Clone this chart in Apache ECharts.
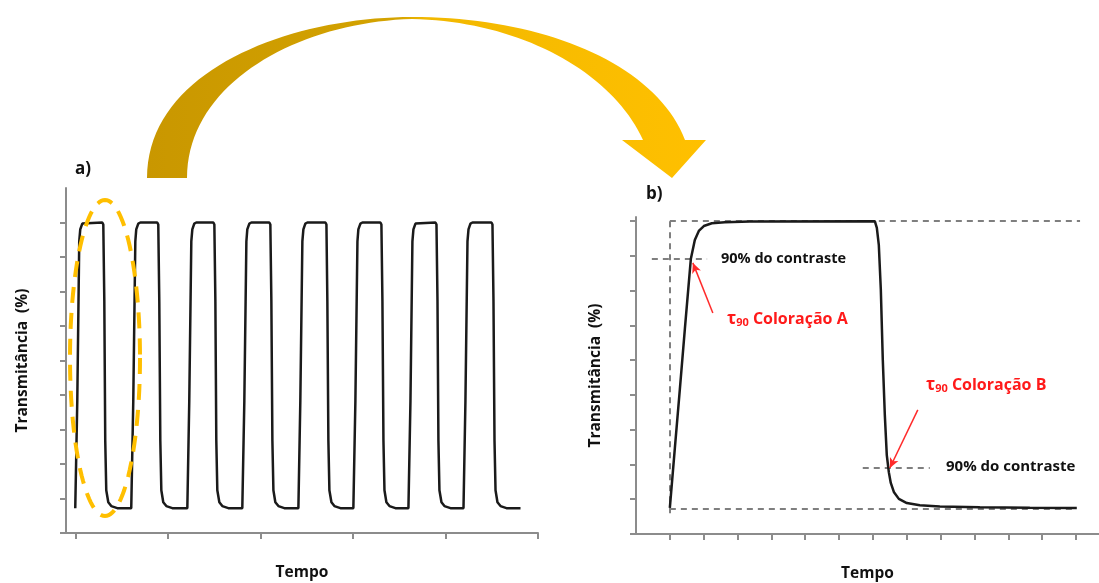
<!DOCTYPE html>
<html>
<head>
<meta charset="utf-8">
<script src="https://cdn.jsdelivr.net/npm/echarts@6/dist/echarts.min.js"></script>
<style>html,body{margin:0;padding:0;background:#fff;}#c{width:1099px;height:583px;}</style>
</head>
<body>
<div id="c"></div>
<script>
// ---- Panel a: repeated switching cycles ----
const timeA = [
  0, 0.22, 0.43, 0.54, 0.76, 0.97, 2.92, 3.03, 3.14, 3.24, 3.35, 3.57, 3.89, 4.54,
  6.05, 6.27, 6.49, 6.59, 6.81, 7.03, 8.86, 8.97, 9.08, 9.19, 9.30, 9.51, 9.84, 10.49,
  12.11, 12.32, 12.54, 12.65, 12.86, 13.08, 14.92, 15.03, 15.14, 15.24, 15.35, 15.57, 15.89, 16.54,
  18.05, 18.27, 18.49, 18.59, 18.81, 19.03, 20.97, 21.08, 21.19, 21.30, 21.41, 21.62, 21.95, 22.59,
  24.11, 24.32, 24.54, 24.65, 24.86, 25.08, 27.03, 27.14, 27.24, 27.35, 27.46, 27.68, 28.00, 28.65,
  30.05, 30.27, 30.49, 30.59, 30.81, 31.03, 32.97, 33.08, 33.19, 33.30, 33.41, 33.62, 33.95, 34.59,
  36.00, 36.22, 36.43, 36.54, 36.76, 36.97, 38.92, 39.03, 39.14, 39.24, 39.35, 39.57, 39.89, 40.54,
  41.95, 42.16, 42.38, 42.49, 42.70, 42.92, 44.97, 45.08, 45.19, 45.30, 45.41, 45.62, 45.95, 46.59, 48.11
];
const transA = [
  0.72, 3.84, 8.45, 8.8, 8.97, 9.0, 9.0, 8.94, 6.72, 2.68, 1.24, 0.89, 0.78, 0.72,
  0.72, 3.84, 8.45, 8.8, 8.97, 9.0, 9.0, 8.94, 6.72, 2.68, 1.24, 0.89, 0.78, 0.72,
  0.72, 3.84, 8.45, 8.8, 8.97, 9.0, 9.0, 8.94, 6.72, 2.68, 1.24, 0.89, 0.78, 0.72,
  0.72, 3.84, 8.45, 8.8, 8.97, 9.0, 9.0, 8.94, 6.72, 2.68, 1.24, 0.89, 0.78, 0.72,
  0.72, 3.84, 8.45, 8.8, 8.97, 9.0, 9.0, 8.94, 6.72, 2.68, 1.24, 0.89, 0.78, 0.72,
  0.72, 3.84, 8.45, 8.8, 8.97, 9.0, 9.0, 8.94, 6.72, 2.68, 1.24, 0.89, 0.78, 0.72,
  0.72, 3.84, 8.45, 8.8, 8.97, 9.0, 9.0, 8.94, 6.72, 2.68, 1.24, 0.89, 0.78, 0.72,
  0.72, 3.84, 8.45, 8.8, 8.97, 9.0, 9.0, 8.94, 6.72, 2.68, 1.24, 0.89, 0.78, 0.72, 0.72
];
const ticksXA = [0, 10, 20, 30, 40, 50];
const ticksYA = [0, 1, 2, 3, 4, 5, 6, 7, 8, 9];

// ---- Panel b: one cycle in detail ----
const timeB = [0, 0.74, 1.48, 2.22, 3.10, 3.69, 4.28, 5.02, 6.20, 8.12, 11.82, 30.28,
  30.58, 30.87, 31.17, 31.46, 31.76, 32.05, 32.35, 32.64, 33.09, 33.83, 35.01, 36.93, 39.88, 45.79, 53.18, 60.12];
const transB = [0.75, 2.47, 4.17, 5.90, 7.91, 8.46, 8.72, 8.86, 8.94, 8.97, 8.99, 9.0,
  8.81, 8.32, 7.02, 5.01, 3.42, 2.27, 1.78, 1.47, 1.21, 1.01, 0.89, 0.83, 0.79, 0.77, 0.755, 0.75];
const ticksXB = [0, 5, 10, 15, 20, 25, 30, 35, 40, 45, 50, 55, 60];
const ticksYB = [0, 1, 2, 3, 4, 5, 6, 7, 8, 9];

// reference levels / times in panel b
const levelTop = 9.0, levelBottom = 0.72, level90A = 7.93, level90B = 1.90;
const tOn = 0, tOff = 30.28;
const arrowA = [[6.35, 6.36], [3.40, 7.80]];
const arrowB = [[36.63, 3.57], [32.50, 1.90]];

const labels = {
  yName: 'Transmitância  (%)',
  xName: 'Tempo',
  contrast: '90% do contraste',
  colA: 'Coloração A',
  colB: 'Coloração B'
};

const FONT = "'Open Sans', 'DejaVu Sans', sans-serif";
const axisGray = '#8c8c8c';
const dashGray = '#7f7f7f';
const RED = '#ff1a1a';

function axisCommon(ticks) {
  return {
    axisLine: { show: true, onZero: false, lineStyle: { color: axisGray, width: 2 } },
    axisTick: { show: true, customValues: ticks, length: 6, inside: false, lineStyle: { color: axisGray, width: 2 } },
    axisLabel: { show: false },
    splitLine: { show: false }
  };
}
const nameStyle = { fontFamily: FONT, fontWeight: 'bold', fontSize: 15.5, color: '#111' };

const dashed = { color: dashGray, width: 2, type: [6, 5] };
function seg(a, b, style) {
  return [{ coord: a, lineStyle: style }, { coord: b }];
}

// decorative shapes (pixel geometry, not data)
function cubic(p0, p1, p2, p3, n) {
  const out = [];
  for (let i = 0; i <= n; i++) {
    const t = i / n, u = 1 - t;
    out.push([
      u*u*u*p0[0] + 3*u*u*t*p1[0] + 3*u*t*t*p2[0] + t*t*t*p3[0],
      u*u*u*p0[1] + 3*u*u*t*p1[1] + 3*u*t*t*p2[1] + t*t*t*p3[1]
    ]);
  }
  return out;
}
const arrowPts = [].concat(
  cubic([147,178],[147,70],[290,17],[412,17],40),
  cubic([412,17],[540,17],[655,62],[685,140],40),
  [[706,140],[672,178],[622,140],[643,140]],
  cubic([643,140],[612,72],[520,21],[412,19],40),
  cubic([412,19],[300,22],[187,82],[187,178],40)
);
const ellipsePts = [];
for (let i = 0; i < 120; i++) {
  const a = i / 120 * Math.PI * 2;
  ellipsePts.push([105 + 35 * Math.cos(a), 358 + 158 * Math.sin(a)]);
}

const redRich = {
  t: { fontFamily: FONT, fontWeight: 'bold', fontSize: 17, fill: RED },
  s: { fontFamily: FONT, fontWeight: 'bold', fontSize: 11, fill: RED, padding: [7, 0, 0, 0] },
  n: { fontFamily: FONT, fontWeight: 'bold', fontSize: 16, fill: RED }
};

const chart = echarts.init(document.getElementById('c'), null, { renderer: 'canvas' });
chart.setOption({
  animation: false,
  backgroundColor: '#ffffff',
  grid: [
    { left: 66, right: 561, top: 188, bottom: 50, outerBoundsMode: 'none', containLabel: false },
    { left: 636, right: 0, top: 217, bottom: 49, outerBoundsMode: 'none', containLabel: false }
  ],
  xAxis: [
    Object.assign({ type: 'value', gridIndex: 0, min: -1, max: 50, name: labels.xName,
      nameLocation: 'middle', nameGap: 32, nameTextStyle: nameStyle }, axisCommon(ticksXA)),
    Object.assign({ type: 'value', gridIndex: 1, min: -5, max: 63.4, name: labels.xName,
      nameLocation: 'middle', nameGap: 32, nameTextStyle: nameStyle }, axisCommon(ticksXB))
  ],
  yAxis: [
    Object.assign({ type: 'value', gridIndex: 0, min: 0, max: 10, name: labels.yName,
      nameLocation: 'middle', nameGap: 35, nameTextStyle: nameStyle }, axisCommon(ticksYA)),
    Object.assign({ type: 'value', gridIndex: 1, min: 0, max: 9.12, name: labels.yName,
      nameLocation: 'middle', nameGap: 32, nameTextStyle: nameStyle }, axisCommon(ticksYB))
  ],
  series: [
    {
      type: 'line', xAxisIndex: 0, yAxisIndex: 0, showSymbol: false, clip: false,
      data: timeA.map((t, i) => [t, transA[i]]),
      lineStyle: { color: '#1a1a1a', width: 2.5 }
    },
    {
      type: 'line', xAxisIndex: 1, yAxisIndex: 1, showSymbol: false, clip: false, z: 3,
      data: timeB.map((t, i) => [t, transB[i]]),
      lineStyle: { color: '#1a1a1a', width: 2.5 },
      markLine: {
        silent: true, symbol: ['none', 'none'], label: { show: false },
        lineStyle: dashed, z: 2,
        data: [
          seg([tOn, levelTop], [60.6, levelTop], dashed),
          seg([tOn, levelBottom], [60.0, levelBottom], dashed),
          seg([tOn, levelTop], [tOn, 0.5], dashed),
          seg([tOff, 9.15], [tOff, levelBottom], dashed),
          seg([-2.66, level90A], [5.5, level90A], dashed),
          seg([28.5, level90B], [38.4, level90B], dashed)
        ]
      }
    },
    {
      type: 'line', xAxisIndex: 1, yAxisIndex: 1, showSymbol: false, data: [],
      markLine: {
        silent: true, symbol: ['none', 'arrow'], symbolSize: [7, 10], label: { show: false },
        lineStyle: { color: '#ff2a2a', width: 1.5, type: 'solid' },
        data: [
          [{ coord: arrowA[0] }, { coord: arrowA[1] }],
          [{ coord: arrowB[0] }, { coord: arrowB[1] }]
        ]
      }
    }
  ],
  graphic: [
    {
      type: 'polygon', z: 1,
      shape: { points: arrowPts },
      style: {
        fill: {
          type: 'linear', x: 0, y: 0, x2: 1, y2: 0,
          colorStops: [
            { offset: 0, color: '#c99700' },
            { offset: 0.45, color: '#d4a300' },
            { offset: 0.5, color: '#f2b800' },
            { offset: 1, color: '#ffc000' }
          ]
        }
      }
    },
    {
      type: 'polygon', z: 10,
      shape: { points: ellipsePts },
      style: { fill: 'none', stroke: '#ffbf00', lineWidth: 4, lineDash: [16, 10] }
    },
    { type: 'text', left: 75, top: 161, z: 10,
      style: { text: 'a)', fontFamily: FONT, fontWeight: 'bold', fontSize: 17, fill: '#111' } },
    { type: 'text', left: 646, top: 186, z: 10,
      style: { text: 'b)', fontFamily: FONT, fontWeight: 'bold', fontSize: 17, fill: '#111' } },
    { type: 'text', left: 721, top: 251, z: 10,
      style: { text: labels.contrast, fontFamily: FONT, fontWeight: 'bold', fontSize: 14.5, fill: '#111' } },
    { type: 'text', left: 946, top: 459, z: 10,
      style: { text: labels.contrast, fontFamily: FONT, fontWeight: 'bold', fontSize: 15, fill: '#111' } },
    { type: 'text', left: 727, top: 311, z: 10,
      style: { text: '{t|τ}{s|90}{n| ' + labels.colA + '}', rich: redRich } },
    { type: 'text', left: 926, top: 377, z: 10,
      style: { text: '{t|τ}{s|90}{n| ' + labels.colB + '}', rich: redRich } }
  ]
});
</script>
</body>
</html>
